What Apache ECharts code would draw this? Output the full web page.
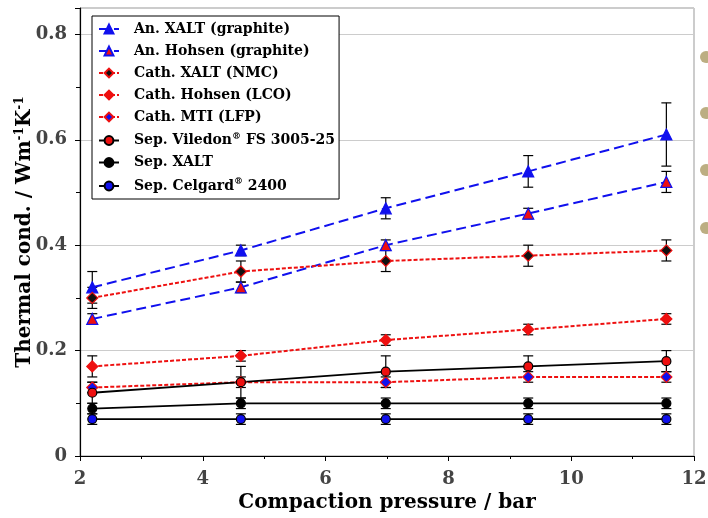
<!DOCTYPE html>
<html>
<head>
<meta charset="utf-8">
<script src="https://cdn.jsdelivr.net/npm/echarts@6/dist/echarts.min.js"></script>
<style>
  html, body { margin: 0; padding: 0; background: #fff; }
  #chart { width: 708px; height: 518px; }
</style>
</head>
<body>
<div id="chart"></div>
<script>
  // pressures (bar)
  var pressure = [2.2, 4.62, 6.98, 9.3, 11.55];

  var names = [
    'An. XALT (graphite)',
    'An. Hohsen (graphite)',
    'Cath. XALT (NMC)',
    'Cath. Hohsen (LCO)',
    'Cath. MTI (LFP)',
    'Sep. Viledon® FS 3005-25',
    'Sep. XALT',
    'Sep. Celgard® 2400'
  ];

  // thermal conductivity W/(m K)
  var anXalt = [0.32, 0.39, 0.47, 0.54, 0.61];
  var anHohsen = [0.26, 0.32, 0.40, 0.46, 0.52];
  var cathXalt = [0.30, 0.35, 0.37, 0.38, 0.39];
  var cathHohsen = [0.17, 0.19, 0.22, 0.24, 0.26];
  var cathMti = [0.13, 0.14, 0.14, 0.15, 0.15];
  var sepViledon = [0.12, 0.14, 0.16, 0.17, 0.18];
  var sepXalt = [0.09, 0.10, 0.10, 0.10, 0.10];
  var sepCelgard = [0.07, 0.07, 0.07, 0.07, 0.07];

  // error (+/-)
  var anXaltErr = [0.03, 0.01, 0.02, 0.03, 0.06];
  var anHohsenErr = [0.01, 0.01, 0.01, 0.01, 0.02];
  var cathXaltErr = [0.02, 0.02, 0.02, 0.02, 0.02];
  var cathHohsenErr = [0.02, 0.01, 0.01, 0.01, 0.01];
  var cathMtiErr = [0.01, 0.01, 0.01, 0.01, 0.01];
  var sepViledonErr = [0.02, 0.03, 0.03, 0.02, 0.02];
  var sepXaltErr = [0.01, 0.01, 0.01, 0.01, 0.01];
  var sepCelgardErr = [0.01, 0.01, 0.01, 0.01, 0.01];

  var xTicks = [2, 4, 6, 8, 10, 12];
  var yTicks = [0, 0.2, 0.4, 0.6, 0.8];

  var chart = echarts.init(document.getElementById('chart'));
  var font = 'DejaVu Serif';

  function pts(vals) {
    var out = [];
    for (var i = 0; i < vals.length; i++) out.push([pressure[i], vals[i]]);
    return out;
  }
  function errPts(vals, errs) {
    var out = [];
    for (var i = 0; i < vals.length; i++) out.push([pressure[i], vals[i] - errs[i], vals[i] + errs[i]]);
    return out;
  }

  //误差棒
  function errorBars(vals, errs) {
    return {
      type: 'custom',
      z: 1,
      silent: true,
      data: errPts(vals, errs),
      renderItem: function (params, api) {
        var lo = api.coord([api.value(0), api.value(1)]);
        var hi = api.coord([api.value(0), api.value(2)]);
        var w = 5;
        var st = { stroke: '#000', lineWidth: 1.2 };
        return {
          type: 'group',
          children: [
            { type: 'line', shape: { x1: hi[0], y1: hi[1], x2: lo[0], y2: lo[1] }, style: st },
            { type: 'line', shape: { x1: hi[0] - w, y1: hi[1], x2: hi[0] + w, y2: hi[1] }, style: st },
            { type: 'line', shape: { x1: lo[0] - w, y1: lo[1], x2: lo[0] + w, y2: lo[1] }, style: st }
          ]
        };
      }
    };
  }

  function lineSeries(name, vals, lineColor, dash, width, symbol, size, fill, border) {
    return {
      name: name,
      type: 'line',
      z: 3,
      data: pts(vals),
      symbol: symbol,
      symbolSize: size,
      showAllSymbol: true,
      lineStyle: { color: lineColor, type: dash, width: width },
      itemStyle: { color: fill, borderColor: border, borderWidth: 1.2 }
    };
  }

  var anDash = [10, 5];
  var cathDash = [4, 2];

  var option = {
    animation: false,
    grid: {
      left: 80, right: 14, top: 8, bottom: 62,
      outerBoundsMode: 'none',
      containLabel: false,
      show: true, borderColor: '#999', borderWidth: 1
    },
    legend: {
      data: names,
      orient: 'vertical',
      left: 92, top: 16,
      padding: [6, 4, 6, 6],
      itemGap: 8,
      itemWidth: 20,
      itemHeight: 11,
      backgroundColor: '#fff',
      borderColor: '#000',
      borderWidth: 1,
      borderRadius: 0,
      textStyle: {
        fontFamily: font, fontWeight: 'bold', fontSize: 14, color: '#000',
        padding: [0, 0, 0, 10],
        rich: {
          sup: { fontFamily: font, fontWeight: 'bold', fontSize: 9, color: '#000', verticalAlign: 'top', padding: [0, 0, 8, 0] }
        }
      },
      formatter: function (n) { return n.replace('®', '{sup|®}'); }
    },
    xAxis: {
      type: 'value',
      min: 2, max: 12, interval: 2,
      name: 'Compaction pressure / bar',
      nameLocation: 'middle',
      nameGap: 37,
      nameTextStyle: { fontFamily: font, fontWeight: 'bold', fontSize: 20, color: '#000' },
      axisLine: { show: true, lineStyle: { color: '#000', width: 1.2 } },
      axisTick: { show: true, length: 5, lineStyle: { color: '#000' } },
      minorTick: { show: true, splitNumber: 2, length: 3, lineStyle: { color: '#000' } },
      axisLabel: { fontFamily: font, fontWeight: 'bold', fontSize: 18, color: '#444', margin: 14 },
      splitLine: { show: false }
    },
    yAxis: {
      type: 'value',
      min: 0, max: 0.85, interval: 0.2,
      name: 'Thermal cond. / Wm{sup|-1}K{sup|-1}',
      nameLocation: 'middle',
      nameRotate: 90,
      nameGap: 44,
      nameMoveOverlap: false,
      nameTextStyle: {
        fontFamily: font, fontWeight: 'bold', fontSize: 20, color: '#000',
        rich: {
          sup: { fontFamily: font, fontWeight: 'bold', fontSize: 12, color: '#000', verticalAlign: 'top', padding: [0, 0, 10, 0] }
        }
      },
      axisLine: { show: true, lineStyle: { color: '#000', width: 1.2 } },
      axisTick: { show: true, length: 5, lineStyle: { color: '#000' } },
      minorTick: { show: true, splitNumber: 2, length: 4, lineStyle: { color: '#000' } },
      axisLabel: {
        fontFamily: font, fontWeight: 'bold', fontSize: 18, color: '#444', margin: 13,
        showMaxLabel: false,
        formatter: function (v) { return v === 0 ? '0' : v.toFixed(1); }
      },
      splitLine: { show: true, lineStyle: { color: '#ccc', width: 1 } }
    },
    graphic: [
      { type: 'circle', shape: { cx: 706, cy: 57, r: 6 }, style: { fill: '#bcae82' } },
      { type: 'circle', shape: { cx: 706, cy: 113, r: 6 }, style: { fill: '#bcae82' } },
      { type: 'circle', shape: { cx: 706, cy: 170, r: 6 }, style: { fill: '#bcae82' } },
      { type: 'circle', shape: { cx: 706, cy: 228, r: 6 }, style: { fill: '#bcae82' } }
    ],
    series: [
      errorBars(anXalt, anXaltErr),
      errorBars(anHohsen, anHohsenErr),
      errorBars(cathXalt, cathXaltErr),
      errorBars(cathHohsen, cathHohsenErr),
      errorBars(cathMti, cathMtiErr),
      errorBars(sepViledon, sepViledonErr),
      errorBars(sepXalt, sepXaltErr),
      errorBars(sepCelgard, sepCelgardErr),
      lineSeries(names[0], anXalt, '#1010ee', anDash, 2, 'triangle', 11, '#1010ee', '#1010ee'),
      lineSeries(names[1], anHohsen, '#1010ee', anDash, 2, 'triangle', 11, '#ee1010', '#1010ee'),
      lineSeries(names[2], cathXalt, '#ee1010', cathDash, 2, 'diamond', 11, '#111', '#ee1010'),
      lineSeries(names[3], cathHohsen, '#ee1010', cathDash, 2, 'diamond', 11, '#ee1010', '#ee1010'),
      lineSeries(names[4], cathMti, '#ee1010', cathDash, 2, 'diamond', 11, '#1010ee', '#ee1010'),
      lineSeries(names[5], sepViledon, '#000', 'solid', 1.8, 'circle', 9, '#ee1010', '#000'),
      lineSeries(names[6], sepXalt, '#000', 'solid', 1.8, 'circle', 9, '#000', '#000'),
      lineSeries(names[7], sepCelgard, '#000', 'solid', 1.8, 'circle', 9, '#1010ee', '#000')
    ]
  };

  chart.setOption(option);
</script>
</body>
</html>
